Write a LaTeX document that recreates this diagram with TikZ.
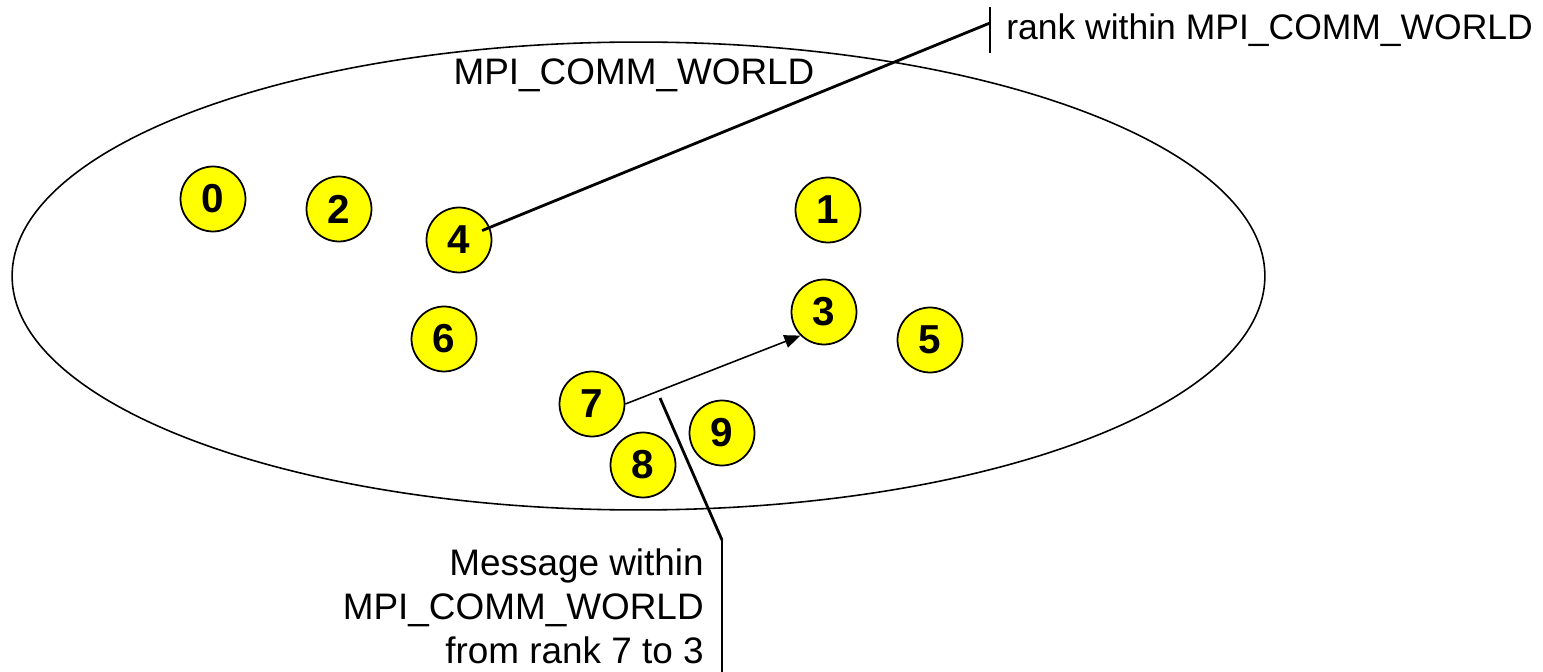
\documentclass[tikz,border=0pt]{standalone}
\usepackage{fontspec}
\setmainfont{Liberation Sans}
\usetikzlibrary{shapes.geometric}
\usetikzlibrary{calc}
\usetikzlibrary{positioning, arrows.meta}

\definecolor{rankyellow}{RGB}{255,255,0}

\begin{document}
\begin{tikzpicture}[x=0.02cm, y=-0.02cm]
        % Define styles for shapes
        \tikzstyle{rank} = [draw, circle, fill=rankyellow, line width=1pt, minimum size=1.3cm, inner sep=0pt, font=\fontsize{23}{26}\selectfont\bfseries]
        \tikzstyle{label} = [font=\fontsize{21}{25}\selectfont, inner ysep=0pt]
        \tikzstyle{callout} = [line width=1.6pt]
        \tikzstyle{msg} = [line width=0.9pt, -{Triangle[length=0.32cm, width=0.26cm]}]
        \useasboundingbox (0,0) rectangle (1543,672);

        % Communicator
        \node[draw, ellipse, line width=0.9pt, inner sep=0pt, minimum width=25.06cm, minimum height=9.36cm] (world) at (638.5,276) {};
        \node[label] (worldname) at (634,75) {MPI\_COMM\_WORLD};

        % Draw shapes
        \foreach \r/\x/\y in {0/213/199, 2/339/209, 4/459/240, 1/828/210, 3/824/312,
                              5/930/340, 6/444/339, 7/592/404, 9/722/433, 8/643/465}
            \node[rank] (r\r) at (\x,\y) {\r};

        % rank label in the upper right corner
        \node[label, font=\fontsize{20.2}{24}\selectfont, anchor=west, inner xsep=0.32cm, minimum height=0.9cm] (ranklabel) at (990,30) {rank within MPI\_COMM\_WORLD};
        \draw[callout] (ranklabel.north west) -- (ranklabel.south west);
        \draw[callout, shorten <=0.5cm] (r4.center) -- ($(ranklabel.west)+(0,-7)$);

        % message from 7 to 3
        \draw[msg] (r7.east) -- (r3.south west);

        % message label under the ellipse
        \coordinate (msgtip) at (660,398);
        \node[label, anchor=north east, align=right, inner xsep=0.36cm, minimum height=2.64cm] (msglabel) at (722,540) {Message within\\MPI\_COMM\_WORLD\\from rank 7 to 3};
        \draw[callout] (msglabel.north east) -- (msglabel.south east);
        \draw[callout] (msgtip) -- (msglabel.north east);
\end{tikzpicture}
\end{document}
